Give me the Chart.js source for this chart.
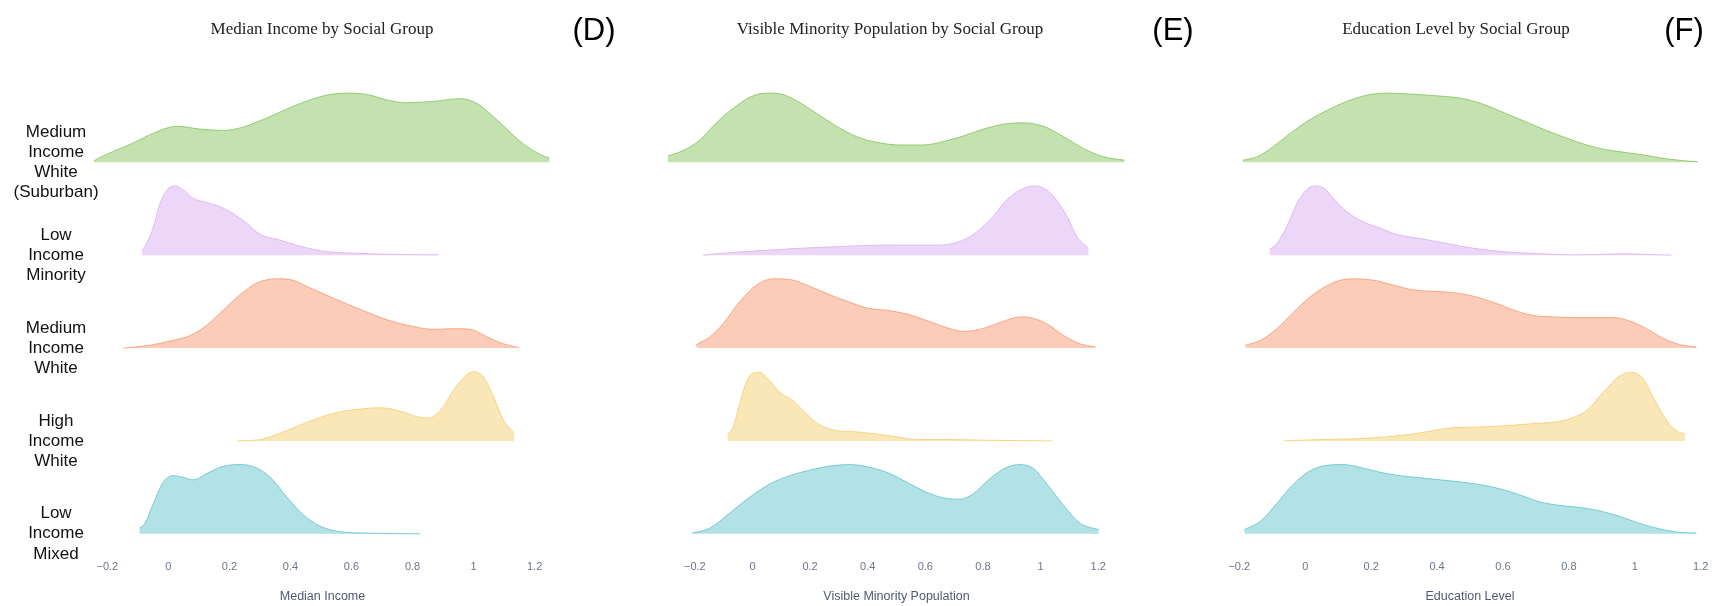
<!DOCTYPE html>
<html lang="en">
<head>
  <meta charset="UTF-8">
  <title>Ridgelines by Social Group</title>
  <script src="https://cdn.jsdelivr.net/npm/chart.js"></script>
  <style>
    body {
      margin: 0;
      background: #fff;
      overflow: hidden;
    }
    #wrap {
      position: relative;
      width: 1716px;
      height: 606px;
    }
    canvas {
      position: absolute;
      top: 0;
    }
    .ttl {
      position: absolute;
      top: 19px;
      transform: translateX(-50%);
      white-space: nowrap;
      font-family: "Liberation Serif", "DejaVu Serif", serif;
      font-size: 17px;
      line-height: 20px;
      color: #222;
    }
    .tag {
      position: absolute;
      top: 12px;
      transform: translateX(-50%);
      font-family: "Liberation Sans", Arial, sans-serif;
      font-size: 31px;
      line-height: 36px;
      color: #000;
    }
  </style>
</head>
<body>
  <div id="wrap">
    <canvas id="chartD" width="640" height="606" style="left:0px"></canvas>
    <canvas id="chartE" width="540" height="606" style="left:640px"></canvas>
    <canvas id="chartF" width="536" height="606" style="left:1180px"></canvas>
    <div class="ttl" style="left:322px">Median Income by Social Group</div>
    <div class="ttl" style="left:890px">Visible Minority Population by Social Group</div>
    <div class="ttl" style="left:1456px">Education Level by Social Group</div>
    <div class="tag" style="left:594px">(D)</div>
    <div class="tag" style="left:1173px">(E)</div>
    <div class="tag" style="left:1684px">(F)</div>
  </div>

  <script>
    // groups, top to bottom
    const groups = [
      ["Medium", "Income", "White", "(Suburban)"],
      ["Low", "Income", "Minority"],
      ["Medium", "Income", "White"],
      ["High", "Income", "White"],
      ["Low", "Income", "Mixed"]
    ];
    const tickValues = [-0.2, 0, 0.2, 0.4, 0.6, 0.8, 1, 1.2];

    // (D) median income: x positions and relative density
    const incSuburbanX = [-0.244, -0.224, -0.115, -0.049, 0.027, 0.104, 0.180, 0.246, 0.322, 0.432, 0.519, 0.585, 0.650, 0.727, 0.781, 0.869, 0.956, 1.011, 1.087, 1.153, 1.219, 1.249];
    const incSuburbanD = [0.02, 0.07, 0.28, 0.42, 0.52, 0.48, 0.46, 0.51, 0.64, 0.85, 0.97, 1.00, 0.98, 0.89, 0.86, 0.88, 0.92, 0.85, 0.57, 0.30, 0.11, 0.06];
    const incLowMinX = [-0.087, -0.071, -0.049, -0.027, -0.005, 0.022, 0.049, 0.082, 0.126, 0.169, 0.213, 0.257, 0.301, 0.355, 0.432, 0.519, 0.607, 0.705, 0.885];
    const incLowMinD = [0.07, 0.17, 0.41, 0.75, 0.94, 1.00, 0.94, 0.82, 0.76, 0.70, 0.60, 0.46, 0.30, 0.23, 0.13, 0.05, 0.03, 0.014, 0.005];
    const incMedWhiteX = [-0.148, -0.060, 0.005, 0.071, 0.126, 0.180, 0.235, 0.290, 0.355, 0.399, 0.454, 0.541, 0.628, 0.716, 0.803, 0.869, 0.934, 0.989, 1.044, 1.098, 1.148];
    const incMedWhiteD = [0.00, 0.04, 0.10, 0.18, 0.33, 0.55, 0.77, 0.94, 1.00, 0.99, 0.89, 0.72, 0.56, 0.41, 0.31, 0.27, 0.28, 0.27, 0.16, 0.06, 0.005];
    const incHighWhiteX = [0.226, 0.301, 0.366, 0.432, 0.497, 0.563, 0.628, 0.694, 0.760, 0.814, 0.852, 0.891, 0.934, 0.978, 1.000, 1.033, 1.066, 1.098, 1.134];
    const incHighWhiteD = [0.00, 0.02, 0.11, 0.23, 0.34, 0.42, 0.46, 0.48, 0.43, 0.35, 0.33, 0.44, 0.73, 0.96, 1.00, 0.92, 0.63, 0.30, 0.11];
    const incLowMixedX = [-0.095, -0.077, -0.049, -0.016, 0.016, 0.044, 0.082, 0.126, 0.169, 0.224, 0.279, 0.333, 0.388, 0.443, 0.497, 0.563, 0.650, 0.825];
    const incLowMixedD = [0.08, 0.15, 0.44, 0.75, 0.84, 0.82, 0.78, 0.87, 0.96, 1.00, 0.97, 0.82, 0.53, 0.27, 0.11, 0.03, 0.01, 0.00];

    // (E) visible minority population
    const vmSuburbanX = [-0.293, -0.241, -0.183, -0.125, -0.067, -0.009, 0.049, 0.095, 0.153, 0.222, 0.292, 0.362, 0.431, 0.512, 0.593, 0.663, 0.732, 0.802, 0.871, 0.941, 1.010, 1.080, 1.149, 1.219, 1.291];
    const vmSuburbanD = [0.09, 0.17, 0.32, 0.57, 0.78, 0.94, 1.00, 0.99, 0.89, 0.71, 0.52, 0.37, 0.29, 0.25, 0.25, 0.30, 0.38, 0.48, 0.55, 0.57, 0.52, 0.37, 0.20, 0.08, 0.03];
    const vmLowMinX = [-0.171, -0.067, 0.049, 0.165, 0.280, 0.396, 0.512, 0.628, 0.698, 0.756, 0.825, 0.883, 0.929, 0.976, 1.010, 1.045, 1.092, 1.126, 1.167];
    const vmLowMinD = [0.00, 0.04, 0.07, 0.10, 0.12, 0.14, 0.145, 0.145, 0.17, 0.27, 0.51, 0.80, 0.94, 1.00, 0.97, 0.85, 0.56, 0.27, 0.10];
    const vmMedWhiteX = [-0.195, -0.148, -0.102, -0.044, 0.014, 0.072, 0.130, 0.199, 0.269, 0.338, 0.408, 0.477, 0.547, 0.616, 0.686, 0.732, 0.790, 0.860, 0.929, 0.964, 1.022, 1.080, 1.138, 1.190];
    const vmMedWhiteD = [0.05, 0.16, 0.35, 0.67, 0.91, 1.00, 0.99, 0.89, 0.77, 0.66, 0.57, 0.54, 0.48, 0.38, 0.28, 0.24, 0.27, 0.37, 0.45, 0.44, 0.35, 0.18, 0.06, 0.015];
    const vmHighWhiteX = [-0.087, -0.067, -0.044, -0.021, 0.002, 0.025, 0.060, 0.095, 0.141, 0.188, 0.234, 0.292, 0.362, 0.431, 0.501, 0.570, 0.686, 0.802, 1.039];
    const vmHighWhiteD = [0.08, 0.20, 0.54, 0.85, 0.98, 0.99, 0.87, 0.70, 0.58, 0.39, 0.23, 0.15, 0.13, 0.10, 0.06, 0.02, 0.02, 0.01, 0.00];
    const vmLowMixedX = [-0.209, -0.148, -0.079, -0.009, 0.060, 0.130, 0.199, 0.269, 0.338, 0.408, 0.477, 0.547, 0.616, 0.674, 0.721, 0.767, 0.825, 0.883, 0.929, 0.976, 1.022, 1.080, 1.138, 1.202];
    const vmLowMixedD = [0.01, 0.08, 0.30, 0.53, 0.72, 0.84, 0.92, 0.98, 1.00, 0.96, 0.87, 0.72, 0.58, 0.51, 0.50, 0.58, 0.80, 0.96, 1.00, 0.94, 0.72, 0.41, 0.15, 0.06];

    // (F) education level
    const eduSuburbanX = [-0.189, -0.146, -0.096, -0.045, 0.005, 0.066, 0.126, 0.187, 0.247, 0.308, 0.369, 0.429, 0.490, 0.551, 0.611, 0.672, 0.732, 0.793, 0.854, 0.914, 0.975, 1.035, 1.096, 1.192];
    const eduSuburbanD = [0.03, 0.08, 0.23, 0.42, 0.59, 0.75, 0.88, 0.97, 1.00, 0.99, 0.97, 0.95, 0.91, 0.82, 0.70, 0.58, 0.46, 0.35, 0.25, 0.18, 0.14, 0.10, 0.05, 0.005];
    const eduLowMinX = [-0.108, -0.086, -0.056, -0.025, 0.005, 0.030, 0.056, 0.086, 0.126, 0.177, 0.227, 0.278, 0.348, 0.429, 0.510, 0.601, 0.702, 0.803, 0.884, 0.975, 1.035, 1.111];
    const eduLowMinD = [0.08, 0.17, 0.41, 0.75, 0.95, 1.00, 0.97, 0.82, 0.63, 0.48, 0.39, 0.30, 0.24, 0.17, 0.10, 0.05, 0.024, 0.005, 0.01, 0.02, 0.01, 0.00];
    const eduMedWhiteX = [-0.182, -0.136, -0.086, -0.035, 0.015, 0.066, 0.116, 0.157, 0.207, 0.268, 0.328, 0.389, 0.449, 0.510, 0.571, 0.631, 0.692, 0.753, 0.813, 0.874, 0.934, 0.985, 1.035, 1.086, 1.136, 1.187];
    const eduMedWhiteD = [0.04, 0.11, 0.28, 0.52, 0.74, 0.90, 0.99, 1.00, 0.98, 0.91, 0.84, 0.82, 0.80, 0.75, 0.66, 0.55, 0.47, 0.45, 0.44, 0.44, 0.44, 0.39, 0.28, 0.14, 0.05, 0.015];
    const eduHighWhiteX = [-0.066, 0.045, 0.146, 0.247, 0.328, 0.389, 0.449, 0.530, 0.611, 0.692, 0.753, 0.803, 0.854, 0.904, 0.955, 0.990, 1.025, 1.056, 1.096, 1.126, 1.152];
    const eduHighWhiteD = [0.00, 0.02, 0.03, 0.06, 0.10, 0.15, 0.19, 0.20, 0.22, 0.25, 0.27, 0.32, 0.44, 0.70, 0.94, 0.99, 0.90, 0.63, 0.30, 0.15, 0.10];
    const eduLowMixedX = [-0.185, -0.136, -0.086, -0.035, 0.015, 0.066, 0.116, 0.167, 0.227, 0.288, 0.348, 0.409, 0.470, 0.530, 0.591, 0.652, 0.712, 0.773, 0.833, 0.894, 0.955, 1.015, 1.076, 1.136, 1.187];
    const eduLowMixedD = [0.06, 0.18, 0.44, 0.72, 0.91, 0.99, 1.00, 0.96, 0.89, 0.84, 0.81, 0.78, 0.75, 0.71, 0.65, 0.56, 0.46, 0.41, 0.38, 0.33, 0.25, 0.15, 0.07, 0.02, 0.01];

    // pastel colours, top group first
    const colors = [
      [135, 197, 95],
      [220, 176, 242],
      [248, 156, 116],
      [246, 207, 113],
      [102, 197, 204]
    ];

    const PEAK = 0.745;

    function rgba(c, a) {
      return "rgba(" + c[0] + "," + c[1] + "," + c[2] + "," + a + ")";
    }

    function ridge(xs, ds, row) {
      const level = groups.length - 1 - row;
      return {
        data: xs.map((x, i) => ({ x: x, y: level + ds[i] * PEAK })),
        fill: { value: level },
        backgroundColor: rgba(colors[row], 0.5),
        borderColor: rgba(colors[row], 0.85),
        borderWidth: 1,
        pointRadius: 0,
        cubicInterpolationMode: "monotone"
      };
    }

    function fmt(v) {
      return v < 0 ? "\u2212" + Math.abs(v) : String(v);
    }

    const panels = [
      {
        id: "chartD", title: "Median Income", min: -0.26, max: 1.27, yWidth: 89, padRight: 84, labels: true,
        curves: [[incSuburbanX, incSuburbanD], [incLowMinX, incLowMinD], [incMedWhiteX, incMedWhiteD], [incHighWhiteX, incHighWhiteD], [incLowMixedX, incLowMixedD]]
      },
      {
        id: "chartE", title: "Visible Minority Population", min: -0.3, max: 1.3, yWidth: 26, padRight: 53, labels: false,
        curves: [[vmSuburbanX, vmSuburbanD], [vmLowMinX, vmLowMinD], [vmMedWhiteX, vmMedWhiteD], [vmHighWhiteX, vmHighWhiteD], [vmLowMixedX, vmLowMixedD]]
      },
      {
        id: "chartF", title: "Education Level", min: -0.21, max: 1.21, yWidth: 56, padRight: 12, labels: false,
        curves: [[eduSuburbanX, eduSuburbanD], [eduLowMinX, eduLowMinD], [eduMedWhiteX, eduMedWhiteD], [eduHighWhiteX, eduHighWhiteD], [eduLowMixedX, eduLowMixedD]]
      }
    ];

    panels.forEach(p => {
      const ctx = document.getElementById(p.id).getContext("2d");
      new Chart(ctx, {
        type: "line",
        data: {
          datasets: p.curves.map((c, row) => ridge(c[0], c[1], row))
        },
        options: {
          responsive: false,
          animation: false,
          events: [],
          layout: { padding: { top: 88, right: p.padRight, bottom: 0, left: 0 } },
          plugins: {
            legend: { display: false },
            tooltip: { enabled: false }
          },
          scales: {
            x: {
              type: "linear",
              min: p.min,
              max: p.max,
              grid: { display: false, drawTicks: false },
              border: { display: false },
              afterBuildTicks: s => { s.ticks = tickValues.map(v => ({ value: v })); },
              afterFit: s => { s.height = 49; },
              ticks: {
                autoSkip: false,
                maxRotation: 0,
                padding: 3,
                color: "#6b7588",
                font: { family: "'Liberation Sans', Arial, sans-serif", size: 11 },
                callback: v => fmt(v)
              },
              title: {
                display: true,
                text: p.title,
                color: "#505a6e",
                font: { family: "'Liberation Sans', Arial, sans-serif", size: 12.5 },
                padding: { top: 0, bottom: 2 }
              }
            },
            y: {
              type: "linear",
              min: -0.25,
              max: 4.8,
              grid: { display: false, drawTicks: false },
              border: { display: false },
              afterBuildTicks: s => { s.ticks = groups.map((g, i) => ({ value: i })); },
              afterFit: s => { s.width = p.yWidth; },
              ticks: {
                display: p.labels,
                autoSkip: false,
                mirror: true,
                crossAlign: "center",
                padding: -75.5,
                color: "#111",
                font: { family: "'Liberation Sans', Arial, sans-serif", size: 17, lineHeight: 1.18 },
                callback: v => groups[groups.length - 1 - Math.round(v)]
              }
            }
          }
        }
      });
    });
  </script>
</body>
</html>
